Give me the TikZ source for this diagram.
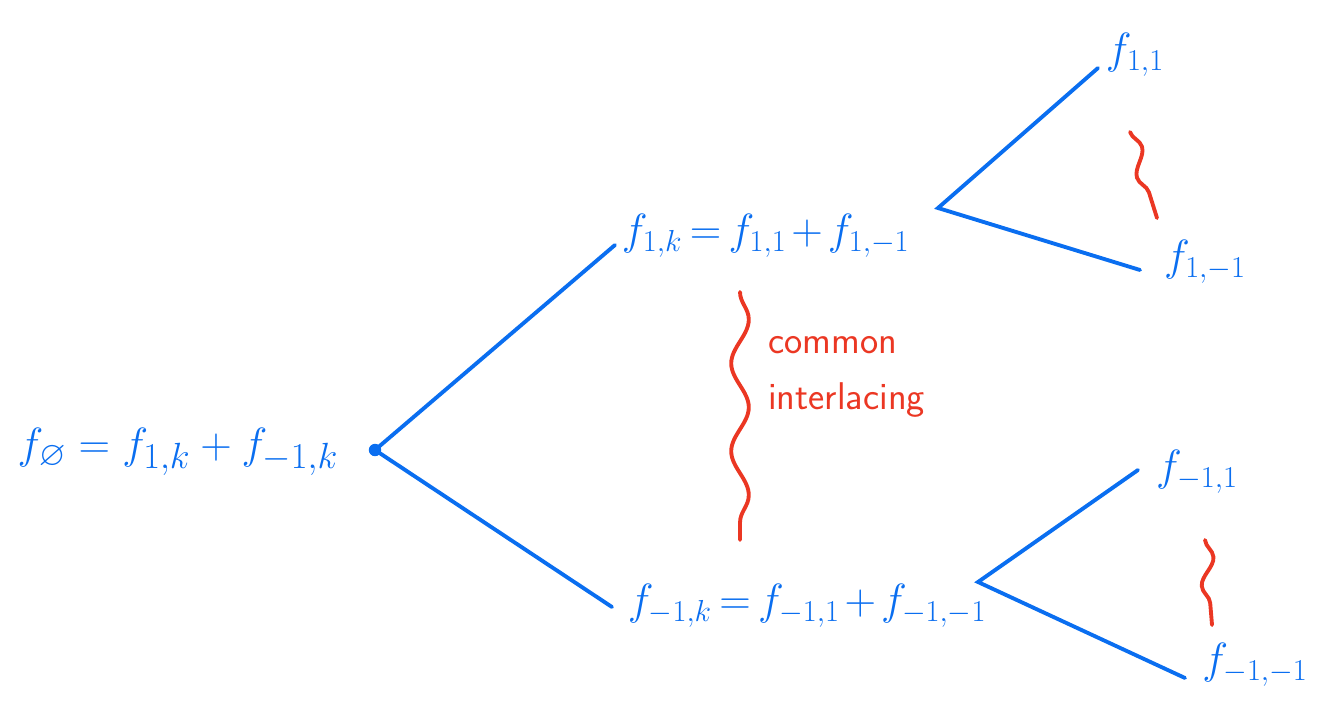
\documentclass[tikz,border=0pt]{standalone}
\usepackage{amsmath, amssymb}
\usetikzlibrary{positioning, decorations.pathmorphing}
\definecolor{penblue}{RGB}{10,110,240}
\definecolor{penred}{RGB}{235,55,35}
\tikzset{
    eqn/.style={text=penblue, font=\fontsize{25}{30}\selectfont, inner sep=2pt},
    leaf/.style={text=penblue, font=\fontsize{27}{32}\selectfont, inner sep=2pt},
    branch/.style={draw=penblue, line width=2.2pt, line cap=round},
    wiggle/.style={draw=penred, line width=2.2pt, line cap=round, decorate,
        decoration={snake, amplitude=5pt, segment length=50pt}},
    smallwiggle/.style={wiggle, decoration={snake, amplitude=4pt, segment length=32pt}},
    note/.style={text=penred, font=\sffamily\fontsize{22}{32}\selectfont, align=left},
}
\newcommand{\tight}{\medmuskip=2mu\thickmuskip=3mu}
\begin{document}
\begin{tikzpicture}[x=0.02cm, y=-0.02cm]
    \useasboundingbox (0,0) rectangle (1331,710);
    % root of the tree
    \node[eqn, font=\fontsize{28}{34}\selectfont] (root) at (178,452) {$f_{\varnothing} = f_{1,k} + f_{-1,k}$};
    \node[circle, fill=penblue, inner sep=2.5pt] (split) at (375,450) {};
    % first level
    \coordinate (upin) at (615,245);
    \coordinate (lowin) at (612,607);
    \node[eqn, anchor=west] (upper) at (618,236) {$\tight f_{1,k} = f_{1,1} + f_{1,-1}$};
    \node[eqn, anchor=west] (lower) at (624,606) {$\tight f_{-1,k} = f_{-1,1} + f_{-1,-1}$};
    \draw[branch] (split.center) -- (upin);
    \draw[branch] (split.center) -- (lowin);
    % common interlacing
    \coordinate (wtop) at (740,292);
    \coordinate (wbot) at (740,540);
    \draw[wiggle] (wtop) -- (wbot);
    \node[note, anchor=north west] (common) at (762,330) {common\\interlacing};
    % upper leaves
    \coordinate (upfork) at (938,208);
    \node[leaf] (uu) at (1135,55) {$f_{1,1}$};
    \node[leaf] (ud) at (1205,262) {$f_{1,-1}$};
    \coordinate (uuin) at (1098,68);
    \coordinate (udin) at (1140,270);
    \draw[branch] (uuin) -- (upfork) -- (udin);
    \coordinate (uwtop) at (1130,132);
    \coordinate (uwbot) at (1157,218);
    \draw[smallwiggle] (uwtop) -- (uwbot);
    % lower leaves
    \coordinate (lowfork) at (978,582);
    \node[leaf] (lu) at (1197,472) {$f_{-1,1}$};
    \node[leaf] (ld) at (1255,665) {$f_{-1,-1}$};
    \coordinate (luin) at (1138,470);
    \coordinate (ldin) at (1185,678);
    \draw[branch] (luin) -- (lowfork) -- (ldin);
    \coordinate (lwtop) at (1205,540);
    \coordinate (lwbot) at (1212,625);
    \draw[smallwiggle] (lwtop) -- (lwbot);
\end{tikzpicture}
\end{document}
